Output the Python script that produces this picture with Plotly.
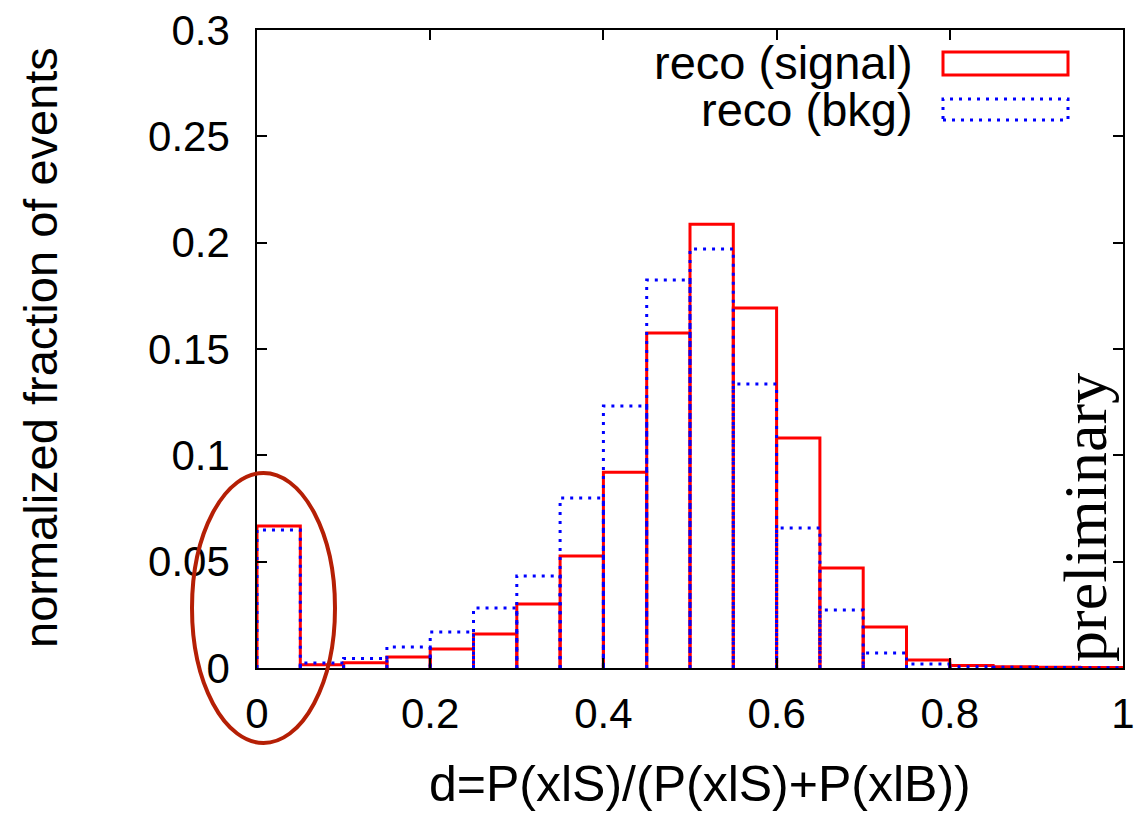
import plotly.graph_objects as go

# ---- data ----
bin_edges = [0.0, 0.05, 0.10, 0.15, 0.20, 0.25, 0.30, 0.35, 0.40, 0.45, 0.50,
             0.55, 0.60, 0.65, 0.70, 0.75, 0.80, 0.85, 0.90, 0.95, 1.0]
signal = [0.0668, 0.0015, 0.0025, 0.0052, 0.0089, 0.0160, 0.0301, 0.0527, 0.0921, 0.1575,
          0.2087, 0.1693, 0.1081, 0.0470, 0.0193, 0.0038, 0.0012, 0.0006, 0.0004, 0.0002]
bkg = [0.0649, 0.0023, 0.0045, 0.0099, 0.0169, 0.0282, 0.0433, 0.0799, 0.1232, 0.1824,
       0.1970, 0.1335, 0.0658, 0.0273, 0.0071, 0.0019, 0.0006, 0.0003, 0.0002, 0.0001]
x_ticks = [0, 0.2, 0.4, 0.6, 0.8, 1]
x_tick_labels = ["0", "0.2", "0.4", "0.6", "0.8", "1"]
y_ticks = [0, 0.05, 0.1, 0.15, 0.2, 0.25, 0.3]
y_tick_labels = ["0", "0.05", "0.1", "0.15", "0.2", "0.25", "0.3"]
series_names = ["reco (signal)", "reco (bkg)"]
x_title = "d=P(xlS)/(P(xlS)+P(xlB))"
y_title = "normalized fraction of events"


def boxes(edges, vals):
    xs, ys = [], []
    for i, v in enumerate(vals):
        x0, x1 = edges[i], edges[i + 1]
        xs += [x0, x0, x1, x1, None]
        ys += [0, v, v, 0, None]
    return xs, ys


SANS = "Liberation Sans, Arial, Helvetica, sans-serif"
SERIF = "Liberation Serif, Times New Roman, serif"
RED = "#ff0000"
BLUE = "#0000ff"
DOT = "3px,6px"

fig = go.Figure()
sx, sy = boxes(bin_edges, signal)
bx, by = boxes(bin_edges, bkg)
fig.add_trace(go.Scatter(x=sx, y=sy, mode="lines", name=series_names[0],
                         line=dict(color=RED, width=3), showlegend=False,
                         cliponaxis=False))
fig.add_trace(go.Scatter(x=bx, y=by, mode="lines", name=series_names[1],
                         line=dict(color=BLUE, width=3, dash=DOT), showlegend=False,
                         cliponaxis=False))

# plot-area geometry in pixels (for paper-coordinate decorations)
L, R, T, B = 257, 1123, 30, 668
W, H = 1135, 815


def px(xp):
    return (xp - L) / (R - L)


def py(yp):
    return (B - yp) / (B - T)


axis_common = dict(showline=True, linecolor="black", linewidth=1.5, mirror="ticks",
                   ticks="inside", ticklen=10, tickwidth=1.5, tickcolor="black",
                   showgrid=False, zeroline=False, automargin=False,
                   tickfont=dict(family=SANS, size=42, color="black"))

fig.update_layout(
    width=W, height=H,
    margin=dict(l=L, r=W - R, t=T, b=H - B, autoexpand=False),
    paper_bgcolor="white", plot_bgcolor="white",
    xaxis=dict(range=[0, 1], tickvals=x_ticks, ticktext=x_tick_labels,
               ticklabelstandoff=8, **axis_common),
    yaxis=dict(range=[0, 0.3], tickvals=y_ticks, ticktext=y_tick_labels,
               ticklabelstandoff=17, **axis_common),
)

# axis titles
fig.add_annotation(xref="paper", yref="paper", x=px(700), y=py(784), text=x_title,
                   showarrow=False, xanchor="center", yanchor="middle",
                   font=dict(family=SANS, size=50, color="black"))
fig.add_annotation(xref="paper", yref="paper", x=px(40), y=py(348), text=y_title,
                   showarrow=False, textangle=-90, xanchor="center", yanchor="middle",
                   font=dict(family=SANS, size=47, color="black"))

# manual legend
fig.add_annotation(xref="paper", yref="paper", x=px(915), y=py(63), text=series_names[0],
                   showarrow=False, xanchor="right", yanchor="middle",
                   font=dict(family=SANS, size=47, color="black"))
fig.add_annotation(xref="paper", yref="paper", x=px(915), y=py(110), text=series_names[1],
                   showarrow=False, xanchor="right", yanchor="middle",
                   font=dict(family=SANS, size=47, color="black"))
fig.add_shape(type="rect", xref="paper", yref="paper", x0=px(943), x1=px(1068),
              y0=py(75), y1=py(52), line=dict(color=RED, width=3))
fig.add_shape(type="rect", xref="paper", yref="paper", x0=px(943), x1=px(1068),
              y0=py(120), y1=py(99), line=dict(color=BLUE, width=3, dash=DOT))

# "preliminary" watermark
fig.add_annotation(xref="paper", yref="paper", x=px(1085), y=py(518), text="preliminary",
                   showarrow=False, textangle=-90, xanchor="center", yanchor="middle",
                   font=dict(family=SERIF, size=62, color="black"))

# highlight ellipse around the first bin
fig.add_shape(type="circle", xref="paper", yref="paper", x0=px(192), x1=px(335),
              y0=py(743), y1=py(473), line=dict(color="#b51f05", width=4), layer="above")

fig.write_html("out.html")
